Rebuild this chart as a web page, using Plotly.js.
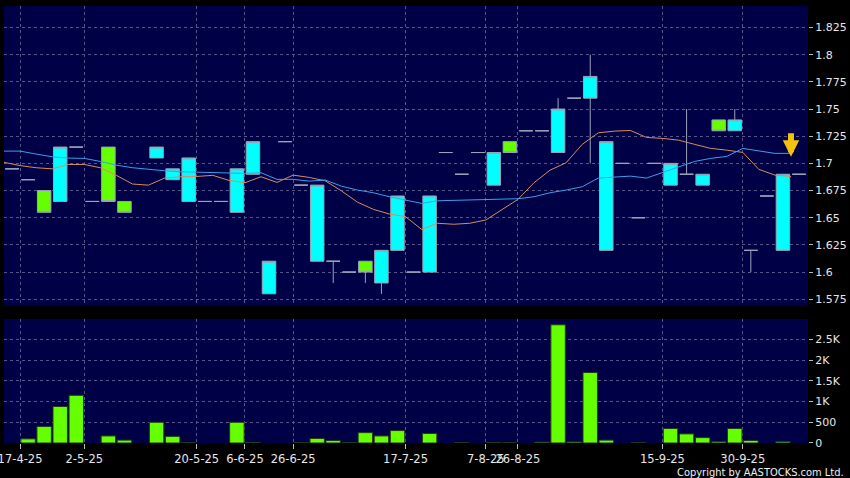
<!DOCTYPE html>
<html>
<head>
<meta charset="utf-8">
<script src="https://cdn.plot.ly/plotly-3.0.1.min.js"></script>
<style>
html,body{margin:0;padding:0;background:#000;}
#chart{width:850px;height:478px;}
</style>
</head>
<body>
<div id="chart"></div>
<script>
// Daily OHLC (trading slot index 0..49); null = no mark
const openP  = [1.695,1.685,1.675,1.665,1.715,1.665,1.715,1.665,null,1.705,1.685,1.665,1.665,1.665,1.655,1.69,1.58,1.72,1.68,1.61,1.61,1.60,1.61,1.59,1.62,1.60,1.60,1.71,1.69,1.71,1.68,1.72,1.73,1.73,1.71,1.76,1.76,1.62,1.70,1.65,1.70,1.68,1.69,1.68,1.74,1.73,1.62,1.67,1.62,1.69];
const highP  = [1.695,1.685,1.675,1.715,1.715,1.665,1.715,1.665,null,1.715,1.695,1.705,1.665,1.665,1.695,1.72,1.61,1.72,1.68,1.68,1.61,1.60,1.61,1.62,1.67,1.60,1.67,1.71,1.69,1.71,1.71,1.72,1.73,1.73,1.76,1.76,1.80,1.72,1.70,1.65,1.70,1.70,1.75,1.69,1.74,1.75,1.62,1.67,1.69,1.69];
const lowP   = [1.695,1.685,1.655,1.665,1.715,1.665,1.665,1.655,null,1.705,1.685,1.665,1.665,1.665,1.655,1.69,1.58,1.72,1.68,1.61,1.59,1.60,1.59,1.58,1.62,1.60,1.60,1.71,1.69,1.71,1.68,1.71,1.73,1.73,1.71,1.76,1.70,1.62,1.70,1.65,1.70,1.68,1.69,1.68,1.73,1.73,1.60,1.67,1.62,1.69];
const closeP = [1.695,1.685,1.655,1.715,1.715,1.665,1.665,1.655,null,1.715,1.695,1.705,1.665,1.665,1.695,1.72,1.61,1.72,1.68,1.68,1.61,1.60,1.60,1.62,1.67,1.60,1.67,1.71,1.69,1.71,1.71,1.71,1.73,1.73,1.75,1.76,1.78,1.72,1.70,1.65,1.70,1.70,1.69,1.69,1.73,1.74,1.62,1.67,1.69,1.69];
const volume = [null,100,400,880,1150,null,170,70,null,500,160,10,null,null,500,15,null,null,10,110,60,10,250,170,300,null,230,null,5,null,10,5,null,20,2850,25,1700,70,null,5,null,350,220,130,30,350,60,null,30,null];

// Moving averages, one value per day boundary (first value = prior day, last = day 48)
const ma10 = [1.701,1.698,1.696,1.695,1.699,1.699,1.696,1.689,1.681,1.680,1.6865,1.6877,1.688,1.689,1.6844,1.6822,1.6877,1.6825,1.6892,1.6871,1.684,1.6748,1.6644,1.6577,1.6534,1.651,1.6393,1.6449,1.644,1.6449,1.6479,1.6571,1.6669,1.6822,1.6938,1.7006,1.7175,1.7281,1.7297,1.7303,1.7239,1.723,1.7214,1.7175,1.7138,1.7122,1.7101,1.6945,1.6892,1.688];
const ma20 = [1.7113,1.7113,1.7086,1.7061,1.7049,1.7046,1.7018,1.6984,1.696,1.6945,1.6932,1.6923,1.692,1.692,1.6917,1.6908,1.6914,1.6853,1.6853,1.6837,1.6847,1.6791,1.6755,1.673,1.6693,1.6663,1.6632,1.6656,1.666,1.666,1.6663,1.6665,1.6675,1.6693,1.673,1.6755,1.6785,1.6865,1.6877,1.6883,1.6865,1.6914,1.6969,1.7018,1.7046,1.7064,1.7138,1.7113,1.7092,1.7092];

// Axis ticks
const tickDays   = [0,4,11,14,17,24,29,31,40,45];
const tickLabels = ["17-4-25","2-5-25","20-5-25","6-6-25","26-6-25","17-7-25","7-8-25","26-8-25","15-9-25","30-9-25"];
const priceTicks = [1.575,1.6,1.625,1.65,1.675,1.7,1.725,1.75,1.775,1.8,1.825];
const volTicks   = [0,500,1000,1500,2000,2500];
const volLabels  = ["0","500","1K","1.5K","2K","2.5K"];

const dayX = openP.map((_, i) => i);
const maX  = ma10.map((_, i) => i - 0.5);
const tickX = tickDays.map(d => d + 0.5);

const gridColor = '#55558a';
const font = {family: 'DejaVu Sans, sans-serif', size: 11, color: '#e6e6e6'};

const traces = [
  {
    type: 'bar', x: dayX, y: volume, xaxis: 'x', yaxis: 'y',
    width: 0.9,
    marker: {color: '#66ff00', line: {color: '#1f3a12', width: 1}},
    hoverinfo: 'skip', showlegend: false
  },
  {
    type: 'candlestick', x: dayX, open: openP, high: highP, low: lowP, close: closeP,
    xaxis: 'x', yaxis: 'y2',
    increasing: {fillcolor: '#00ffff', line: {color: '#9aa4b8', width: 1}},
    decreasing: {fillcolor: '#66ff00', line: {color: '#9aa4b8', width: 1}},
    whiskerwidth: 0,
    hoverinfo: 'skip', showlegend: false
  },
  {
    type: 'scatter', mode: 'lines', x: maX, y: ma10, xaxis: 'x', yaxis: 'y2',
    line: {color: '#d98a62', width: 1}, hoverinfo: 'skip', showlegend: false
  },
  {
    type: 'scatter', mode: 'lines', x: maX, y: ma20, xaxis: 'x', yaxis: 'y2',
    line: {color: '#3aa0ea', width: 1}, hoverinfo: 'skip', showlegend: false
  }
];

const lastIdx = ma20.length - 1;

const layout = {
  width: 850, height: 478,
  paper_bgcolor: '#000000', plot_bgcolor: '#000046',
  margin: {l: 4, r: 42, t: 6, b: 35},
  font: font,
  showlegend: false,
  boxgap: 0.16, boxgroupgap: 0,
  bargap: 0,
  xaxis: {
    range: [-0.5, 49.56], fixedrange: true,
    tickmode: 'array', tickvals: tickX, ticktext: tickLabels,
    tickangle: 0, ticklabeloverflow: 'allow',
    ticks: 'outside', ticklen: 5, tickcolor: '#bbbbbb', tickwidth: 1,
    tickfont: {family: 'DejaVu Sans, sans-serif', size: 11.5, color: '#e6e6e6'},
    showgrid: true, gridcolor: gridColor, griddash: '3px,3px', gridwidth: 1,
    zeroline: false, showline: false,
    rangeslider: {visible: false},
    anchor: 'y'
  },
  yaxis: {
    domain: [0, 0.2838], range: [0, 2990], side: 'right', anchor: 'x',
    tickmode: 'array', tickvals: volTicks, ticktext: volLabels,
    ticks: 'outside', ticklen: 4, tickcolor: '#bbbbbb',
    showgrid: true, gridcolor: gridColor, griddash: '3px,3px',
    zeroline: false, showline: false, fixedrange: true
  },
  yaxis2: {
    domain: [0.3135, 1], range: [1.5688, 1.8448], side: 'right', anchor: 'x',
    tickmode: 'array', tickvals: priceTicks, ticktext: priceTicks.map(v => String(v)),
    ticks: 'outside', ticklen: 4, tickcolor: '#bbbbbb',
    showgrid: true, gridcolor: gridColor, griddash: '3px,3px',
    zeroline: false, showline: false, fixedrange: true
  },
  annotations: [
    {
      xref: 'x', yref: 'y2', axref: 'x', ayref: 'y2',
      x: maX[lastIdx], y: ma20[lastIdx] - 0.003,
      ax: maX[lastIdx], ay: ma20[lastIdx] + 0.020,
      showarrow: true, arrowhead: 2, arrowsize: 0.55, arrowwidth: 6,
      arrowcolor: '#f2c20f', text: ''
    },
    {
      xref: 'paper', yref: 'paper', x: 1.047, y: -0.068,
      xanchor: 'right', yanchor: 'middle', showarrow: false,
      text: 'Copyright by AASTOCKS.com Ltd.',
      font: {family: 'DejaVu Sans Condensed, Liberation Sans Narrow, DejaVu Sans, sans-serif', size: 11, color: '#f0f0f0'}
    }
  ]
};

Plotly.newPlot('chart', traces, layout, {staticPlot: true, displayModeBar: false});
</script>
</body>
</html>
